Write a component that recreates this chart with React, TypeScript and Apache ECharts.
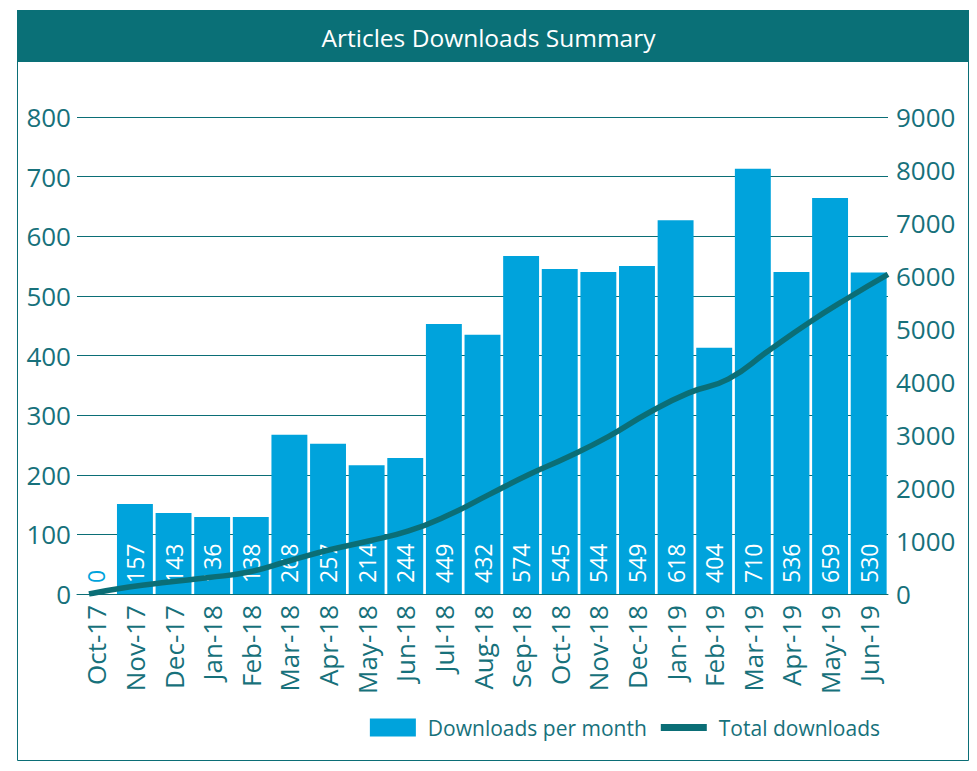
import React, { useEffect, useRef } from "react";
import * as echarts from "echarts";

const months = [
  "Oct-17", "Nov-17", "Dec-17", "Jan-18", "Feb-18", "Mar-18", "Apr-18",
  "May-18", "Jun-18", "Jul-18", "Aug-18", "Sep-18", "Oct-18", "Nov-18",
  "Dec-18", "Jan-19", "Feb-19", "Mar-19", "Apr-19", "May-19", "Jun-19",
];
// printed labels (downloads per month)
const monthlyLabels = [0, 157, 143, 136, 138, 268, 257, 214, 244, 449, 432, 574, 545, 544, 549, 618, 404, 710, 536, 659, 530];
// bar heights as drawn
const monthlyBars = [0, 151, 136, 129, 129, 267, 252, 216, 228, 453, 435, 567, 545, 540, 550, 627, 413, 713, 540, 664, 539];
// cumulative line (right axis)
const totalDownloads = [0, 132, 226, 311, 415, 623, 830, 1000, 1190, 1490, 1870, 2250, 2590, 2970, 3415, 3790, 4055, 4585, 5110, 5585, 6030];

const leftTicks = { min: 0, max: 800, interval: 100 };
const rightTicks = { min: 0, max: 9000, interval: 1000 };

const TEAL = "#0b6e76";
const TEAL_TXT = "#17717b";
const BLUE = "#00a3dc";
const FONT = "'Open Sans', sans-serif";

export default function App() {
  const ref = useRef<HTMLDivElement>(null);
  useEffect(() => {
    if (!ref.current) return;
    const chart = echarts.init(ref.current, null, { renderer: "svg" });
    chart.setOption({
      animation: false,
      textStyle: { fontFamily: FONT },
      title: {
        text: "Articles Downloads Summary",
        left: "center",
        top: 17,
        textStyle: { color: "#ffffff", fontSize: 24.5, fontWeight: "normal", fontFamily: FONT, lineHeight: 30 },
      },
      graphic: [
        { type: "rect", shape: { x: 17.5, y: 10.5, width: 951, height: 750 }, style: { fill: "none", stroke: TEAL, lineWidth: 1 }, z: -1 },
        { type: "rect", shape: { x: 17, y: 10, width: 952, height: 52 }, style: { fill: "#0a7077" }, z: -1 },
      ],
      legend: {
        right: 92,
        top: 712,
        itemWidth: 46,
        itemHeight: 18,
        itemGap: 14,
        textStyle: { color: TEAL_TXT, fontSize: 21, fontFamily: FONT, padding: [0, 0, 0, 7] },
        data: [
          { name: "Downloads per month", icon: "rect" },
          { name: "Total downloads", icon: "path://M0 0H46V7H0Z", itemStyle: { color: TEAL } },
        ],
      },
      grid: { left: 77, right: 89, top: 117, bottom: 177, containLabel: false },
      xAxis: [
        {
          type: "category",
          data: months,
          axisTick: { show: false },
          axisLine: { lineStyle: { color: TEAL, width: 1 } },
          axisLabel: { rotate: 90, margin: 11, color: TEAL_TXT, fontSize: 26, fontFamily: FONT, interval: 0 },
        },
        {
          type: "value",
          min: -0.3,
          max: months.length - 1,
          show: false,
          position: "bottom",
        },
      ],
      yAxis: [
        {
          type: "value",
          ...leftTicks,
          axisLine: { show: false },
          axisTick: { show: false },
          splitLine: { lineStyle: { color: TEAL, width: 1 } },
          axisLabel: { color: TEAL_TXT, fontSize: 26, margin: 6, fontFamily: FONT },
        },
        {
          type: "value",
          ...rightTicks,
          position: "right",
          axisLine: { show: false },
          axisTick: { show: false },
          splitLine: { show: false },
          axisLabel: { color: TEAL_TXT, fontSize: 26, margin: 8, fontFamily: FONT, formatter: (v: number) => String(v) },
        },
      ],
      series: [
        {
          name: "Downloads per month",
          type: "bar",
          xAxisIndex: 0,
          yAxisIndex: 0,
          barCategoryGap: "7%",
          itemStyle: { color: BLUE },
          z: 2,
          data: monthlyBars.map((v, i) => ({
            value: v,
            label: monthlyLabels[i] === 0 ? { color: BLUE } : undefined,
          })),
          label: {
            show: true,
            position: "insideBottom",
            distance: 11,
            rotate: 90,
            align: "left",
            verticalAlign: "middle",
            color: "#ffffff",
            fontSize: 23,
            fontFamily: FONT,
            formatter: (p: any) => String(monthlyLabels[p.dataIndex]),
          },
        },
        {
          name: "Total downloads",
          type: "line",
          xAxisIndex: 1,
          yAxisIndex: 1,
          smooth: true,
          symbol: "none",
          z: 5,
          lineStyle: { color: TEAL, width: 5.5 },
          itemStyle: { color: TEAL },
          data: totalDownloads.map((v, i) => [i, v]),
        },
      ],
    });
    return () => chart.dispose();
  }, []);
  return <div ref={ref} style={{ position: "fixed", left: 0, top: 0, width: 977, height: 771, background: "#fff" }} />;
}
